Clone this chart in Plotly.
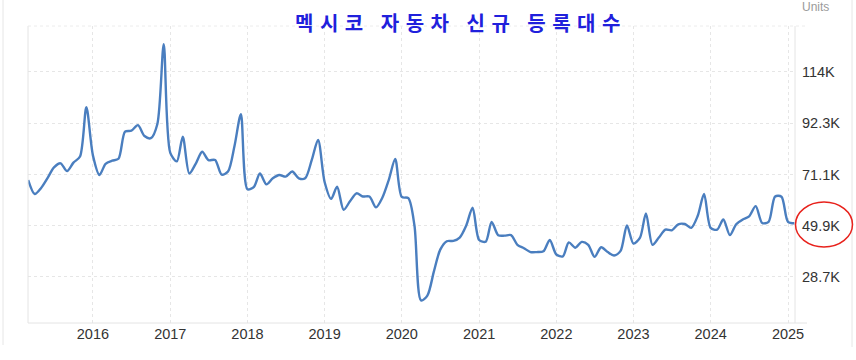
import plotly.graph_objects as go

# Monthly new vehicle registrations, Mexico (thousands of units), Mar 2015 - Feb 2025
start_month = "2015-03"
values_k = [
    68.8, 63.0, 65.5, 69.7, 74.0, 75.7, 72.5, 76.0, 78.5, 98.9,   # 2015
    79.0, 70.9, 75.5, 76.8, 77.6, 88.8, 89.2, 91.5, 87.0, 86.1, 92.0, 125.0,  # 2016
    80.0, 76.5, 86.7, 71.5, 75.5, 80.5, 77.0, 77.1, 71.0, 72.3, 83.0, 96.0,   # 2017
    65.0, 66.0, 71.5, 67.0, 69.5, 70.9, 70.2, 72.3, 69.5, 69.5, 77.0, 85.4,   # 2018
    68.0, 61.0, 66.0, 56.5, 60.0, 63.3, 62.0, 62.0, 57.5, 61.5, 69.0, 77.5,   # 2019
    61.8, 61.3, 50.0, 19.0, 21.0, 31.0, 40.0, 43.5, 43.6, 45.0, 50.0, 57.4,   # 2020
    44.0, 43.3, 51.5, 46.0, 45.8, 46.0, 42.0, 40.6, 39.0, 39.0, 39.3, 44.0,   # 2021
    38.0, 37.2, 43.0, 40.8, 43.2, 42.0, 37.0, 41.0, 39.0, 37.6, 39.5, 50.0,   # 2022
    42.5, 45.0, 55.0, 42.0, 45.0, 48.3, 48.0, 50.5, 50.6, 49.0, 54.0, 63.0,   # 2023
    49.0, 48.3, 52.5, 46.0, 50.5, 52.5, 53.8, 58.0, 51.0, 51.5, 62.0, 61.9,   # 2024
    51.5, 50.9,                                                             # 2025
]
y_tick_vals = [28700, 49900, 71100, 92300, 113500]
y_tick_text = ["28.7K", "49.9K", "71.1K", "92.3K", "114K"]
title_text = "멕시코 자동차 신규 등록대수"
units_text = "Units"

sy, sm = int(start_month[:4]), int(start_month[5:])
dates = []
for i in range(len(values_k)):
    mm = sm - 1 + i
    dates.append(f"{sy + mm // 12}-{mm % 12 + 1:02d}-01")
values = [v * 1000 for v in values_k]

W, H = 856, 360
L, R, T, B = 28, 795, 26, 323
def px(x):
    return (x - L) / (R - L)
def py(y):
    return (B - y) / (B - T)

fig = go.Figure()
fig.add_trace(go.Scatter(
    x=dates, y=values, mode="lines",
    line=dict(color="#4a7ebf", width=2.4, shape="spline", smoothing=0.8),
    hoverinfo="x+y", showlegend=False,
))

grid = "#e6e6e6"
fig.update_layout(
    width=W, height=H,
    margin=dict(l=L, r=W - R, t=T, b=H - B, pad=0),
    paper_bgcolor="white", plot_bgcolor="white",
    font=dict(family="Liberation Sans, Arial, sans-serif", color="#333333"),
    xaxis=dict(
        type="date", range=["2015-02-28", "2025-02-03"],
        tick0="2016-01-01", dtick="M12", tickformat="%Y",
        showgrid=True, gridcolor=grid, griddash="dot", gridwidth=1,
        showline=False, zeroline=False, ticks="",
        tickfont=dict(size=14.5, color="#333333"),
    ),
    yaxis=dict(
        side="right", range=[9670, 132500],
        tickvals=y_tick_vals, ticktext=y_tick_text,
        showgrid=True, gridcolor=grid, griddash="dot", gridwidth=1,
        showline=False, zeroline=False, ticks="",
        ticklabelstandoff=6,
        tickfont=dict(size=14.5, color="#333333"),
    ),
    shapes=[
        # plot frame lines
        dict(type="line", xref="paper", yref="paper", x0=0, x1=0, y0=0, y1=1,
             line=dict(color="#e4e4e4", width=1)),
        dict(type="line", xref="paper", yref="paper", x0=1, x1=1, y0=0, y1=1,
             line=dict(color="#e4e4e4", width=1)),
        dict(type="line", xref="paper", yref="paper", x0=0, x1=px(807), y0=0, y1=0,
             line=dict(color="#e4e4e4", width=1)),
        dict(type="line", xref="paper", yref="paper", x0=0, x1=px(807), y0=1, y1=1,
             line=dict(color="#ececec", width=1, dash="dot")),
        # outer frame
        dict(type="line", xref="paper", yref="paper", x0=px(3), x1=px(3), y0=py(345), y1=py(-5),
             line=dict(color="#e6e6e6", width=1)),
        dict(type="line", xref="paper", yref="paper", x0=px(852), x1=px(852), y0=py(347), y1=py(-5),
             line=dict(color="#e6e6e6", width=1)),
        # red ellipse around the 49.9K label
        dict(type="circle", xref="paper", yref="paper",
             x0=px(795.5), x1=px(852.5), y0=py(247), y1=py(202),
             line=dict(color="#e8221c", width=1.5)),
    ],
    annotations=[
        dict(text=f'<span style="letter-spacing:6.5px">{title_text}</span>',
             xref="paper", yref="paper", x=px(461), y=py(22),
             xanchor="center", yanchor="middle", showarrow=False,
             font=dict(family="Noto Sans CJK KR", size=20, color="#2020dc", weight="bold")),
        dict(text=units_text, xref="paper", yref="paper", x=px(800), y=py(7),
             xanchor="left", yanchor="middle", showarrow=False,
             font=dict(size=12, color="#9a9a9a")),
    ],
)

fig.write_html("out.html")
